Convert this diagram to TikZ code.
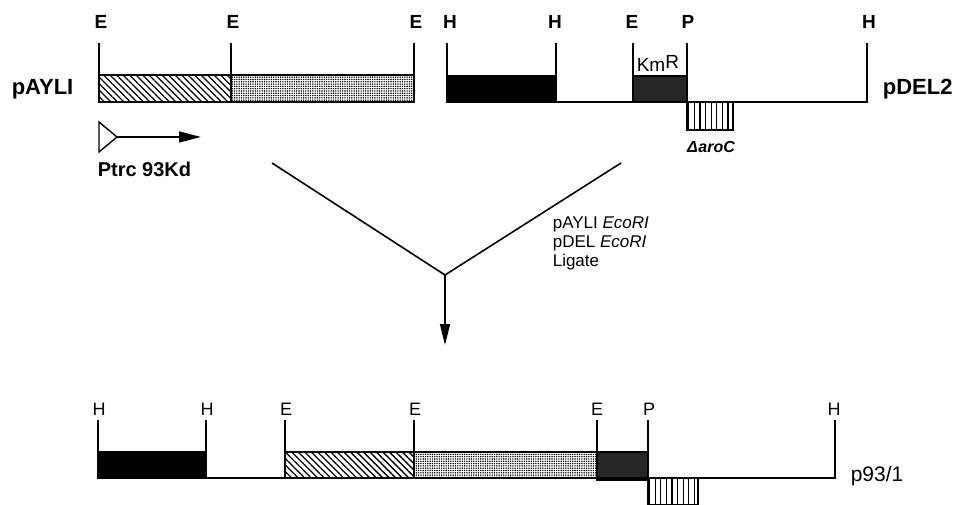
\documentclass[tikz,border=0pt]{standalone}
\usepackage{fontspec}
\setmainfont{Liberation Sans}
\usetikzlibrary{arrows.meta,patterns.meta}

\begin{document}
\begin{tikzpicture}[x=1pt, y=-1pt, line width=1.6pt,
    site/.style = {anchor=base, inner sep=0pt, font=\bfseries\fontsize{19}{19}\selectfont},
    small/.style = {anchor=base, inner sep=0pt, font=\fontsize{18}{18}\selectfont},
    plasmid/.style = {anchor=base west, inner sep=0pt, font=\bfseries\fontsize{22}{22}\selectfont},
    hatch/.style = {pattern={Lines[angle=-45,distance=4.6pt,line width=1.3pt]}},
    stipple/.style = {pattern={Dots[distance=2.3pt,radius=0.8pt]}},
    kan/.style = {fill=black!85},
    aro/.style = {pattern={Lines[angle=90,distance=5.6pt,line width=1.3pt]}}]
    \useasboundingbox (0,0) rectangle (960,505);

    % pAYLI
    \draw[hatch] (99,75) rectangle (231,102);
    \draw[stipple] (231,75) rectangle (414,102);
    \draw (99,43) -- (99,102);
    \draw (231,43) -- (231,75);
    \draw (414,43) -- (414,102);
    \node[site] (aE1) at (101,29) {E};
    \node[site] (aE2) at (233,29) {E};
    \node[site] (aE3) at (416,29) {E};
    \node[plasmid] (pAYLI) at (11,95) {pAYLI};
    \draw[line width=1.4pt] (99,122) -- (117,137) -- (99,152) -- cycle;
    \coordinate (ptrc) at (117,137);
    \coordinate (ptrcEnd) at (201,137);
    \draw[-{Triangle[length=22pt,width=11pt]}] (ptrc) -- (ptrcEnd);
    \node[anchor=base west, inner sep=0pt, font=\bfseries\fontsize{20}{20}\selectfont] (ptrcLabel) at (97,177) {Ptrc 93Kd};

    % pDEL2
    \draw[fill=black] (447,76) rectangle (556,102);
    \draw[kan] (633,76) rectangle (687,102);
    \draw[aro] (687,102) rectangle (733,130);
    \draw (447,43) -- (447,102) -- (867,102) -- (867,43);
    \draw (556,43) -- (556,76);
    \draw (633,43) -- (633,102);
    \draw (687,43) -- (687,102);
    \node[site] (dH1) at (450,29) {H};
    \node[site] (dH2) at (555,29) {H};
    \node[site] (dE1) at (632,29) {E};
    \node[site] (dP1) at (688,29) {P};
    \node[site] (dH3) at (869,29) {H};
    \node[anchor=base west, inner sep=0pt, font=\fontsize{19}{19}\selectfont] (kmR) at (636,72) {Km\raisebox{3.5pt}{R}};
    \node[anchor=base, inner sep=0pt, font=\bfseries\itshape\fontsize{16}{16}\selectfont] (aroC) at (711,153) {Δ\kern0.5pt aroC};
    \node[plasmid] (pDEL2) at (882,95) {pDEL2};

    % ligation
    \coordinate (left) at (272,163);
    \coordinate (right) at (621,163);
    \coordinate (join) at (445,275);
    \coordinate (down) at (445,345);
    \draw (left) -- (join) -- (right);
    \draw[-{Triangle[length=21pt,width=10pt]}] (join) -- (down);
    \node[align=left, anchor=north west, inner sep=0pt, font=\fontsize{17}{19}\selectfont] (steps) at (552,216)
        {pAYLI \textit{EcoRI}\\pDEL \textit{EcoRI}\\Ligate};

    % p93/1
    \draw[fill=black] (98,452) rectangle (206,478);
    \draw[hatch] (285,452) rectangle (414,478);
    \draw[stipple] (414,452) rectangle (597,478);
    \draw[kan] (597,452) rectangle (648,480);
    \draw[aro] (648,478) rectangle (698,505);
    \draw (98,420) -- (98,478) -- (835,478) -- (835,420);
    \draw (206,420) -- (206,452);
    \draw (285,420) -- (285,478);
    \draw (414,420) -- (414,452);
    \draw (597,420) -- (597,478);
    \draw (648,420) -- (648,478);
    \node[small] (bH1) at (99,415) {H};
    \node[small] (bH2) at (207,415) {H};
    \node[small] (bE1) at (286,415) {E};
    \node[small] (bE2) at (415,415) {E};
    \node[small] (bE3) at (597,415) {E};
    \node[small] (bP1) at (649,415) {P};
    \node[small] (bH3) at (834,415) {H};
    \node[anchor=base west, inner sep=0pt, font=\fontsize{21}{21}\selectfont] (p93) at (850,481) {p93/1};
\end{tikzpicture}
\end{document}
